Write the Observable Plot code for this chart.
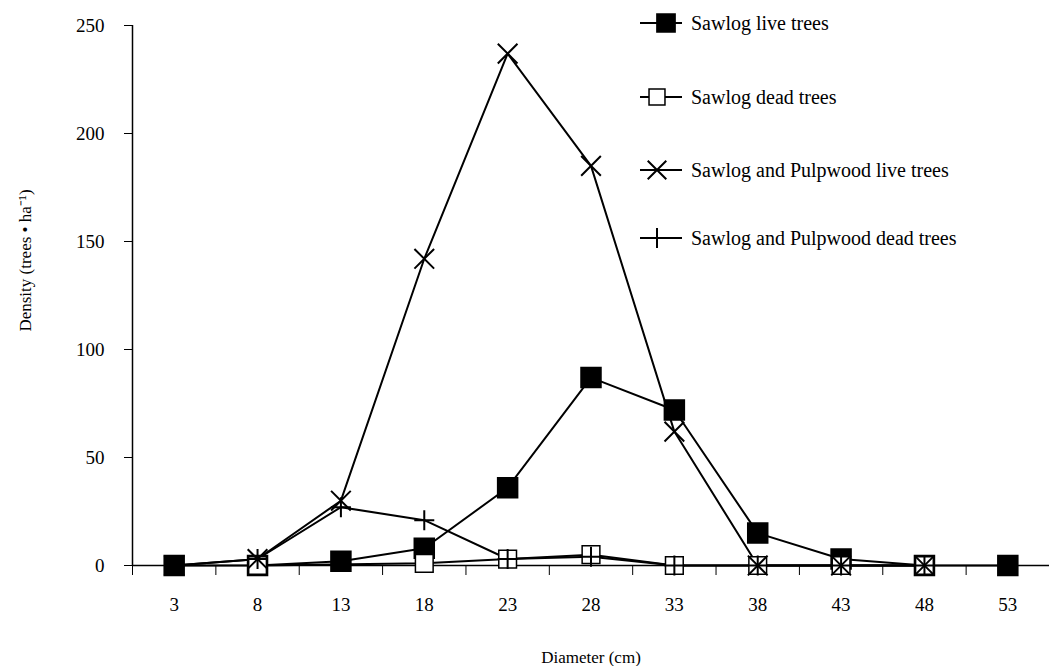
<!DOCTYPE html>
<html><head><meta charset="utf-8">
<script src="https://cdn.jsdelivr.net/npm/d3@7"></script>
<script src="https://cdn.jsdelivr.net/npm/@observablehq/plot@0.6"></script>
<style>body{margin:0;background:#fff;}</style>
</head><body><div id="chart"></div>
<script>
const diameters = [3, 8, 13, 18, 23, 28, 33, 38, 43, 48, 53];
const seriesNames = ["Sawlog live trees", "Sawlog dead trees", "Sawlog and Pulpwood live trees", "Sawlog and Pulpwood dead trees"];
const sawlogLive = [0, 0, 2, 8, 36, 87, 72, 15, 3, 0, 0];
const sawlogDead = [null, 0, null, 1, 3, 5, 0, 0, 0, 0, null];
const pulpLive = [0, 3, 30, 142, 237, 185, 62, 0, 0, 0, null];
const pulpDead = [0, 3, 27, 21, 3, 4, 0, 0, 0, 0, null];
const yTicks = [0, 50, 100, 150, 200, 250];
const xLabel = "Diameter (cm)";
const yLabel = "Density (trees • ha⁻¹)";

const allValues = [sawlogLive, sawlogDead, pulpLive, pulpDead];
const symbols = ["square", "square", "times", "plus"];
const fills = ["#000", "#fff", "none", "none"];
const radii = [11, 10, 9, 6.5];

const rows = allValues.map((vals, i) => diameters.map((d, j) => ({diameter: d, density: vals[j], series: seriesNames[i]})).filter(r => r.density != null));
const boundaries = [diameters[0] - 2.5, ...diameters.slice(0, -1).map(d => d + 2.5)];
const serif = "'Liberation Serif', 'Times New Roman', serif";

const marks = [
  Plot.ruleY([0], {stroke: "#000", strokeWidth: 1.5}),
  Plot.axisY({ticks: yTicks, tickSize: 8, tickPadding: 20, fontSize: 19, label: null}),
  Plot.text([yLabel], {frameAnchor: "left", textAnchor: "middle", lineAnchor: "middle", dx: -107, dy: -35, rotate: -90, fontSize: 17, fontFamily: serif}),
  Plot.ruleX([0.5], {stroke: "#000", strokeWidth: 1.5, y1: 0, y2: 250}),
  Plot.axisX({ticks: boundaries, tickSize: 10, tickFormat: () => "", label: null}),
  Plot.axisX({ticks: diameters, tickSize: 0, tickPadding: 32, fontSize: 19, label: null}),
  Plot.text([xLabel], {frameAnchor: "bottom", lineAnchor: "middle", dy: 92, fontSize: 17, fontFamily: serif})
];
rows.forEach((data, i) => {
  marks.push(Plot.line(data, {x: "diameter", y: "density", stroke: "#000", strokeWidth: 2}));
});
rows.forEach((data, i) => {
  marks.push(Plot.dot(data, {x: "diameter", y: "density", symbol: symbols[i], r: radii[i], fill: fills[i], stroke: "#000", strokeWidth: i === 1 ? 1.5 : 2}));
});

const plot = Plot.plot({
  width: 1049, height: 666,
  marginLeft: 132, marginRight: 0, marginTop: 25, marginBottom: 101,
  style: {fontFamily: serif, fontSize: "17px", color: "#000", background: "#fff", overflow: "visible"},
  x: {domain: [0.5, 55.5]},
  y: {domain: [0, 250]},
  marks
});
document.getElementById("chart").appendChild(plot);

// legend
const svg = d3.select(plot);
const lg = svg.append("g").attr("font-family", serif).attr("font-size", 20).attr("text-anchor", "start");
const legendY = [23, 97, 170, 238];
const d3syms = [d3.symbolSquare, d3.symbolSquare, d3.symbolTimes, d3.symbolPlus];
const legendR = [10, 9, 8.5, 6.5];
const legendSymX = [666, 657, 657, 657];
seriesNames.forEach((name, i) => {
  const g = lg.append("g").attr("transform", `translate(0,${legendY[i]})`);
  g.append("line").attr("x1", 640).attr("x2", 682).attr("stroke", "#000").attr("stroke-width", 2);
  g.append("path").attr("transform", `translate(${legendSymX[i]},0)`)
    .attr("d", d3.symbol(d3syms[i], Math.PI * legendR[i] * legendR[i])())
    .attr("fill", fills[i]).attr("stroke", "#000").attr("stroke-width", i === 1 ? 1.5 : 2);
  g.append("text").attr("x", 691).attr("dy", "0.35em").text(name);
});
</script></body></html>
